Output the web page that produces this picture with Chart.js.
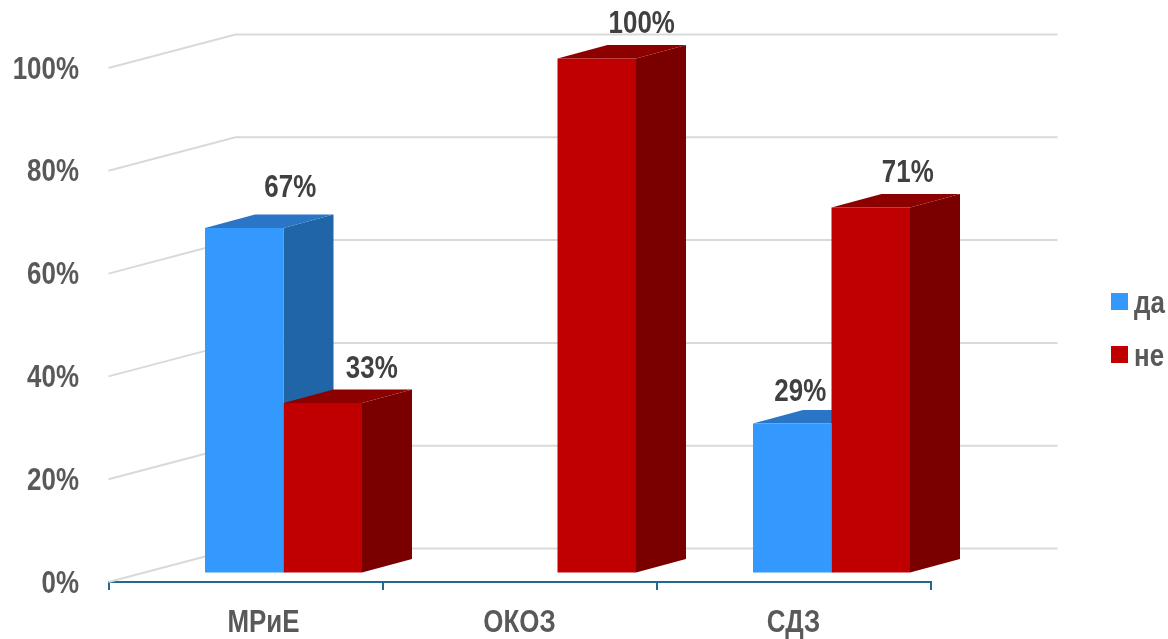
<!DOCTYPE html>
<html>
<head>
<meta charset="utf-8">
<style>
  html, body { margin: 0; padding: 0; background: #fff; }
  canvas { display: block; }
</style>
<script src="https://cdn.jsdelivr.net/npm/chart.js@4"></script>
</head>
<body>
<canvas id="chart" width="1168" height="639"></canvas>
<script>
const categories = ['МРиЕ', 'ОКОЗ', 'СДЗ'];
const daValues = [67, null, 29];
const neValues = [33, 100, 71];
const seriesNames = ['да', 'не'];
const yTicks = [0, 20, 40, 60, 80, 100];

const FONT = 'bold 32px "Liberation Sans", sans-serif';
const NARROW = 0.81;                      // no Arial Narrow here, squeeze the regular face
const wall = { dx: 127, dy: -33.5 };      // back wall offset from the front of the floor
const shift = { x: 38, y: -9.5 };         // bars stand inside the floor, not on its front edge
const depth = { dx: 50, dy: -13.5 };      // bar depth
const blue = { front: '#3399ff', top: '#2a75c5', side: '#2065a8' };
const red = { front: '#c00000', top: '#8c0000', side: '#7a0000' };
const faces = [blue, red];

// hand placed data labels: x offset from the bar centre, gap above the front face
const labelNudge = [
    [[46, 31], null, [8, 22]],
    [[49, 25], [45, 26], [37, 26]]
];
const xLabelNudge = [18, 0, 0];

function poly(ctx, pts, color) {
    ctx.fillStyle = color;
    ctx.beginPath();
    pts.forEach((p, i) => i ? ctx.lineTo(p[0], p[1]) : ctx.moveTo(p[0], p[1]));
    ctx.closePath();
    ctx.fill();
}

function narrowText(ctx, text, x, y, align, color) {
    ctx.save();
    ctx.translate(x, y);
    ctx.scale(NARROW, 1);
    ctx.font = FONT;
    ctx.textAlign = align;
    ctx.textBaseline = 'alphabetic';
    ctx.fillStyle = color;
    ctx.fillText(text, 0, 0);
    ctx.restore();
}

const chart3d = {
    id: 'chart3d',
    beforeDatasetsDraw(chart) {
        const { ctx, chartArea: area, scales: { y } } = chart;
        ctx.save();
        ctx.strokeStyle = '#d9d9d9';
        ctx.lineWidth = 2;
        yTicks.forEach(v => {
            const py = y.getPixelForValue(v);
            ctx.beginPath();
            ctx.moveTo(area.left, py);
            ctx.lineTo(area.left + wall.dx, py + wall.dy);
            ctx.lineTo(area.right + wall.dx, py + wall.dy);
            ctx.stroke();
        });
        ctx.restore();

        // sides and tops go under every front face
        ctx.save();
        ctx.translate(shift.x, shift.y);
        chart.data.datasets.forEach((ds, d) => {
            chart.getDatasetMeta(d).data.forEach((bar, i) => {
                if (ds.data[i] === null) return;
                const { x, y: top, base, width } = bar.getProps(['x', 'y', 'base', 'width'], true);
                const l = x - width / 2, r = x + width / 2;
                poly(ctx, [[r, top], [r + depth.dx, top + depth.dy], [r + depth.dx, base + depth.dy], [r, base]], faces[d].side);
                poly(ctx, [[l, top], [l + depth.dx, top + depth.dy], [r + depth.dx, top + depth.dy], [r, top]], faces[d].top);
            });
        });
        ctx.restore();

        ctx.save();
        ctx.translate(shift.x, shift.y);
    },
    afterDatasetsDraw(chart) {
        const { ctx, chartArea: area, scales: { x, y } } = chart;
        ctx.restore();

        // data labels
        chart.data.datasets.forEach((ds, d) => {
            chart.getDatasetMeta(d).data.forEach((bar, i) => {
                if (ds.data[i] === null) return;
                const nudge = labelNudge[d][i];
                const props = bar.getProps(['x', 'y'], true);
                narrowText(ctx, ds.data[i] + '%', props.x + shift.x + nudge[0], props.y + shift.y - nudge[1], 'center', '#404040');
            });
        });

        // axis labels
        chart.data.labels.forEach((label, i) => {
            narrowText(ctx, label, x.getPixelForTick(i) + xLabelNudge[i], 632, 'center', '#595959');
        });
        y.ticks.forEach((tick, i) => {
            narrowText(ctx, tick.label, 79, y.getPixelForTick(i) + 10.5, 'right', '#595959');
        });

        // legend
        chart.data.datasets.forEach((ds, d) => {
            const top = 293 + d * 53;
            ctx.fillStyle = ds.backgroundColor;
            ctx.fillRect(area.right + 180.5, top, 17, 17);
            narrowText(ctx, ds.label, area.right + 203.5, top + 20, 'left', '#595959');
        });
    }
};

new Chart(document.getElementById('chart'), {
    type: 'bar',
    data: {
        labels: categories,
        datasets: [
            { label: seriesNames[0], data: daValues, backgroundColor: blue.front, clip: false },
            { label: seriesNames[1], data: neValues, backgroundColor: red.front, clip: false }
        ]
    },
    options: {
        responsive: false,
        animation: false,
        layout: { padding: { left: 0, top: 68, right: 237.5, bottom: 0 } },
        plugins: { legend: { display: false }, tooltip: { enabled: false } },
        datasets: { bar: { categoryPercentage: 0.573, barPercentage: 1 } },
        scales: {
            x: {
                afterFit: scale => { scale.height = 57; },
                grid: { drawOnChartArea: false, drawTicks: true, tickLength: 8, color: '#1f6b8e', lineWidth: 2 },
                border: { color: '#1f6b8e', width: 2 },
                ticks: { display: false }
            },
            y: {
                min: 0,
                max: 100,
                afterFit: scale => { scale.width = 108.5; },
                afterBuildTicks: scale => { scale.ticks = yTicks.map(v => ({ value: v })); },
                grid: { display: false, drawTicks: false },
                border: { display: false },
                ticks: { display: false, callback: v => v + '%' }
            }
        }
    },
    plugins: [chart3d]
});
</script>
</body>
</html>
